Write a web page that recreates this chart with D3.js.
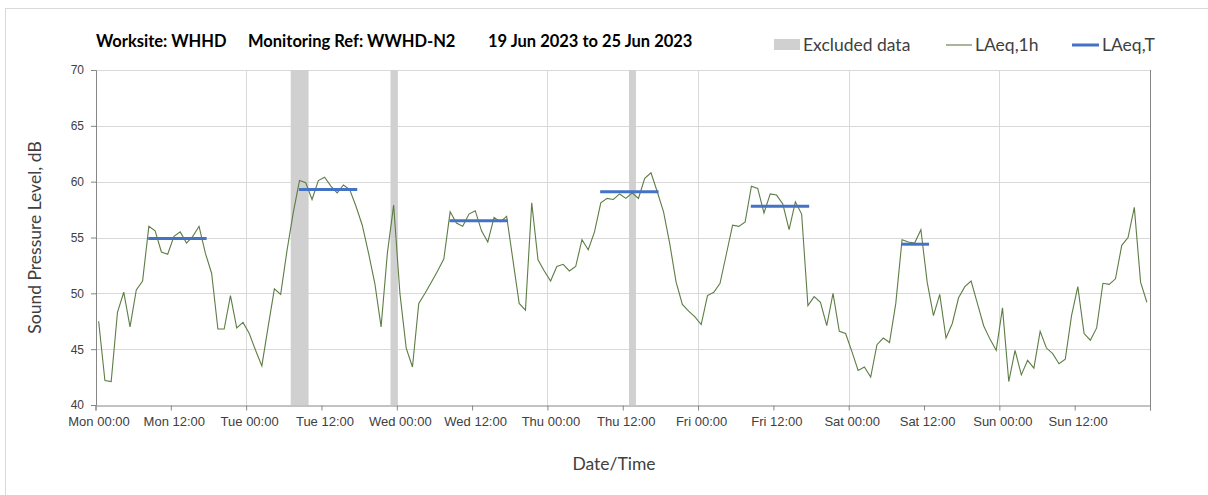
<!DOCTYPE html>
<html>
<head>
<meta charset="utf-8">
<script src="https://cdn.jsdelivr.net/npm/d3@7"></script>
<style>
  body { margin: 0; background: #fff; }
  svg { font-family: Lato, "Open Sans", sans-serif; }
  .axis path, .axis line { stroke: #868686; }
  .axis text { fill: #404040; }
</style>
</head>
<body>
<div id="chart"></div>
<script>
// hourly LAeq,1h values, Mon 00:00 -> Sun 23:00
var laeq1h = [
  47.5, 42.2, 42.1, 48.3, 50.1, 47.0, 50.3, 51.1, 56.0, 55.6, 53.7, 53.5,
  55.1, 55.5, 54.5, 55.1, 56.0, 53.6, 51.8, 46.8, 46.8, 49.8, 46.9, 47.4,
  46.4, 44.9, 43.5, 47.0, 50.4, 49.9, 53.8, 57.2, 60.1, 59.9, 58.4, 60.1,
  60.4, 59.6, 59.0, 59.7, 59.3, 57.8, 56.1, 53.6, 50.9, 47.0, 53.6, 57.9,
  50.0, 45.1, 43.4, 49.1, 50.0, 51.0, 52.0, 53.1, 57.3, 56.3, 56.0, 57.1,
  57.4, 55.6, 54.6, 56.8, 56.4, 56.9, 53.0, 49.1, 48.5, 58.1, 53.0, 52.0,
  51.1, 52.4, 52.6, 52.0, 52.4, 54.8, 53.9, 55.5, 58.1, 58.5, 58.4, 58.9,
  58.5, 59.0, 58.5, 60.3, 60.8, 59.1, 57.3, 54.4, 51.0, 49.0, 48.4, 47.9,
  47.2, 49.8, 50.1, 50.9, 53.5, 56.1, 56.0, 56.4, 59.6, 59.4, 57.2, 58.9,
  58.8, 58.0, 55.7, 58.2, 57.1, 48.9, 49.7, 49.2, 47.1, 50.0, 46.6, 46.4,
  44.8, 43.1, 43.4, 42.5, 45.4, 46.0, 45.6, 49.1, 54.8, 54.6, 54.5, 55.7,
  51.0, 48.0, 49.9, 46.0, 47.3, 49.6, 50.6, 51.1, 49.1, 47.1, 45.9, 44.9,
  48.7, 42.1, 44.9, 42.7, 44.0, 43.3, 46.6, 45.1, 44.6, 43.7, 44.1, 48.0,
  50.6, 46.4, 45.8, 46.9, 50.9, 50.8, 51.3, 54.3, 55.0, 57.7, 51.0, 49.2
];

var dayNames = ['Mon', 'Tue', 'Wed', 'Thu', 'Fri', 'Sat', 'Sun'];

// LAeq,T over the working period of each day: [start hour, end hour, level]
var periodStart = [8.4, 32.4, 56.4, 80.4, 104.4, 128.4];
var periodEnd   = [17.7, 41.7, 65.7, 89.7, 113.7, 132.8];
var periodLevel = [54.9, 59.3, 56.5, 59.1, 57.8, 54.4];

// excluded data bands, hours from Mon 00:00
var exclStart = [31.1, 47.0, 85.0];
var exclEnd   = [33.95, 48.1, 86.1];

var yTicks = [40, 45, 50, 55, 60, 65, 70];

var W = 1208, H = 495;
var svg = d3.select('#chart').append('svg').attr('width', W).attr('height', H);

// faint chart-area border (only left and top visible in the frame)
svg.append('rect').attr('x', 5.5).attr('y', 8.5).attr('width', 1215).attr('height', 500)
  .attr('fill', 'none').attr('stroke', '#d9d9d9');

var x = d3.scaleLinear().domain([0, 168]).range([95.5, 1150]);
var y = d3.scaleLinear().domain([40, 70]).range([405, 70]);

var g = svg.append('g');

// gridlines
g.selectAll('.hgrid').data(yTicks.slice(1)).enter().append('line')
  .attr('x1', x(0)).attr('x2', x(168))
  .attr('y1', function(d){ return Math.round(y(d)) + 0.5; })
  .attr('y2', function(d){ return Math.round(y(d)) + 0.5; })
  .attr('stroke', '#d9d9d9').attr('stroke-width', 1);
g.selectAll('.vgrid').data(d3.range(24, 168, 24)).enter().append('line')
  .attr('x1', function(d){ return Math.round(x(d)) + 0.5; })
  .attr('x2', function(d){ return Math.round(x(d)) + 0.5; })
  .attr('y1', y(70)).attr('y2', y(40))
  .attr('stroke', '#d9d9d9').attr('stroke-width', 1);

// excluded bands
g.selectAll('.excl').data(exclStart).enter().append('rect')
  .attr('x', function(d){ return x(d); })
  .attr('width', function(d, i){ return x(exclEnd[i]) - x(d); })
  .attr('y', y(70)).attr('height', y(40) - y(70))
  .attr('fill', '#d0d0d0');

// right edge line
g.append('line').attr('x1', Math.round(x(168)) + 0.5).attr('x2', Math.round(x(168)) + 0.5)
  .attr('y1', y(70)).attr('y2', y(40) + 5).attr('stroke', '#868686');

// axes
var xAxis = d3.axisBottom(x).tickValues(d3.range(0, 169, 12)).tickSize(5).tickPadding(6)
  .tickFormat(function(h){
    if (h >= 168) return '';
    return dayNames[Math.floor(h / 24)] + ' ' + (h % 24 === 0 ? '00:00' : '12:00');
  });
var gx = svg.append('g').attr('class', 'axis').attr('transform', 'translate(0,' + (y(40) + 0.5) + ')').call(xAxis);
gx.selectAll('text').attr('font-size', 13).attr('dx', 3);

var yAxis = d3.axisLeft(y).tickValues(yTicks).tickSize(5).tickPadding(7);
var gy = svg.append('g').attr('class', 'axis').attr('transform', 'translate(' + (x(0) + 0.5) + ',0)').call(yAxis);
gy.selectAll('text').attr('font-size', 12);

// LAeq,1h line
var line = d3.line().x(function(d, i){ return x(i + 0.5); }).y(function(d){ return y(d); });
g.append('path').datum(laeq1h).attr('d', line)
  .attr('fill', 'none').attr('stroke', '#5e7d45').attr('stroke-width', 1.1);

// LAeq,T segments
g.selectAll('.period').data(periodLevel).enter().append('line')
  .attr('x1', function(d, i){ return x(periodStart[i]); })
  .attr('x2', function(d, i){ return x(periodEnd[i]); })
  .attr('y1', function(d){ return y(d); }).attr('y2', function(d){ return y(d); })
  .attr('stroke', '#4472c4').attr('stroke-width', 3);

// title
var title = svg.append('g').attr('font-weight', 'bold').attr('font-size', 16.5).attr('fill', '#000');
title.append('text').attr('x', 96).attr('y', 47).text('Worksite: WHHD');
title.append('text').attr('x', 248).attr('y', 47).text('Monitoring Ref: WWHD-N2');
title.append('text').attr('x', 488).attr('y', 47).text('19 Jun 2023 to 25 Jun 2023');

// legend
var lg = svg.append('g').attr('font-size', 17.5).attr('fill', '#404040');
lg.append('rect').attr('x', 774).attr('y', 39).attr('width', 26).attr('height', 11).attr('fill', '#d0d0d0');
lg.append('text').attr('x', 803).attr('y', 51).text('Excluded data');
lg.append('line').attr('x1', 946).attr('x2', 972).attr('y1', 45).attr('y2', 45)
  .attr('stroke', '#5e7d45').attr('stroke-width', 1.1);
lg.append('text').attr('x', 975).attr('y', 51).text('LAeq,1h');
lg.append('line').attr('x1', 1072).attr('x2', 1099).attr('y1', 45).attr('y2', 45)
  .attr('stroke', '#4472c4').attr('stroke-width', 3);
lg.append('text').attr('x', 1102).attr('y', 51).text('LAeq,T');

// axis titles
svg.append('text').attr('x', 614).attr('y', 470).attr('text-anchor', 'middle')
  .attr('font-size', 17.5).attr('fill', '#404040').text('Date/Time');
svg.append('text').attr('transform', 'translate(41,' + ((y(70) + y(40)) / 2) + ') rotate(-90)')
  .attr('text-anchor', 'middle').attr('font-size', 17.5).attr('fill', '#404040')
  .text('Sound Pressure Level, dB');
</script>
</body>
</html>
